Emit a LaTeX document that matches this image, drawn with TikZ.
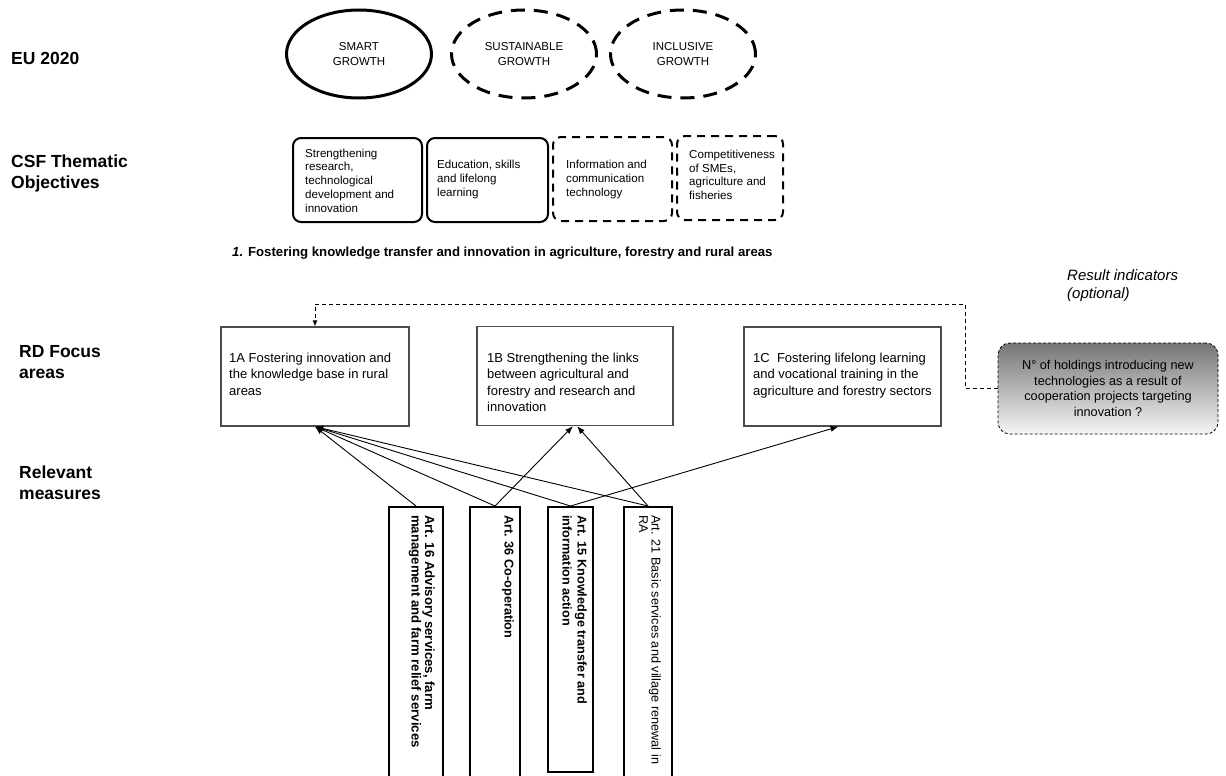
\documentclass[tikz,border=0pt]{standalone}
\usepackage{fontspec}
\setmainfont{Liberation Sans}
\usetikzlibrary{shapes.geometric,arrows.meta}
\definecolor{shadetop}{RGB}{118,118,118}
\definecolor{shadebot}{RGB}{246,246,246}
\begin{document}
\begin{tikzpicture}[x=1pt,y=-1pt,
 growth/.style={ellipse, draw, line width=3pt, minimum width=145pt, minimum height=88pt, inner sep=0pt, align=center, font=\fontsize{11.5}{15}\selectfont},
 dashgrowth/.style={growth, dash pattern=on 14pt off 9pt},
 csfbox/.style={draw, line width=2pt, rounded corners=8pt, inner sep=0pt, minimum height=84pt},
 csfdash/.style={csfbox, dash pattern=on 8pt off 6pt},
 csftext/.style={anchor=west, align=left, inner sep=0pt, font=\fontsize{11.6}{13.7}\selectfont},
 sidelabel/.style={anchor=west, align=left, inner sep=0pt, font=\fontsize{17.5}{21}\selectfont\bfseries},
 focusbox/.style={draw=black!70, line width=1.2pt, inner sep=0pt, minimum height=99pt},
 focustext/.style={anchor=north west, align=left, inner sep=0pt, font=\fontsize{13}{16.3}\selectfont},
 measurebox/.style={draw, line width=1.5pt, inner sep=0pt},
 measuretext/.style={rotate=-90, anchor=north west, align=left, inner sep=0pt, font=\fontsize{12.7}{14}\selectfont},
 arr/.style={-{Latex[length=8pt,width=6pt]}, line width=0.9pt},
 dasharr/.style={-{Latex[length=6pt,width=5pt]}, line width=0.9pt, dash pattern=on 4pt off 3pt},
 resultbox/.style={draw, line width=0.8pt, dash pattern=on 3pt off 2pt, rounded corners=12pt, minimum width=220pt, minimum height=91pt, inner sep=0pt, top color=shadetop, bottom color=shadebot, align=center, font=\fontsize{12.7}{15.7}\selectfont}
]
\useasboundingbox (0,0) rectangle (1226,776);

% side labels
\node[sidelabel] (lEU) at (11,58) {EU 2020};
\node[sidelabel] (lCSF) at (11,173.5) {CSF Thematic\\Objectives};
\node[sidelabel] (lRD) at (19,362) {RD Focus\\areas};
\node[sidelabel] (lRM) at (19,483) {Relevant\\measures};

% EU 2020 ellipses
\node[growth] (smart) at (359,54) {SMART\\GROWTH};
\node[dashgrowth] (sust) at (524,54) {SUSTAINABLE\\GROWTH};
\node[dashgrowth] (incl) at (683,54) {INCLUSIVE\\GROWTH};

% CSF thematic objectives
\node[csfbox, minimum width=129pt] (t1) at (357.5,180) {};
\node[csfbox, minimum width=121pt] (t2) at (487.5,180) {};
\node[csfdash, minimum width=119pt] (t3) at (612.5,179) {};
\node[csfdash, minimum width=106pt] (t4) at (730,178) {};
\node[csftext] (t1txt) at (305,180.5) {Strengthening\\research,\\technological\\development and\\innovation};
\node[csftext] (t2txt) at (437,179.5) {Education, skills\\and lifelong\\learning};
\node[csftext] (t3txt) at (566,179.5) {Information and\\communication\\technology};
\node[csftext] (t4txt) at (689,175) {Competitiveness\\of SMEs,\\agriculture and\\fisheries};

% heading
\node[anchor=west, inner sep=0pt, font=\fontsize{13.2}{16}\selectfont\bfseries] (head) at (232,253) {\textit{1.} Fostering knowledge transfer and innovation in agriculture, forestry and rural areas};

% result indicators
\node[anchor=west, align=left, inner sep=0pt, font=\fontsize{15}{18}\selectfont\itshape] (resl) at (1067,286) {Result indicators\\(optional)};

% focus areas
\node[focusbox, minimum width=188pt] (f1A) at (315,376.5) {};
\node[focusbox, minimum width=196pt] (f1B) at (575,376) {};
\node[focusbox, minimum width=197pt] (f1C) at (842.5,376.5) {};
\node[focustext] (f1Atxt) at (229,353) {1A Fostering innovation and\\the knowledge base in rural\\areas};
\node[focustext] (f1Btxt) at (487,353) {1B Strengthening the links\\between agricultural and\\forestry and research and\\innovation};
\node[focustext] (f1Ctxt) at (753,353) {1C\ \ Fostering lifelong learning\\and vocational training in the\\agriculture and forestry sectors};

% result box
\node[resultbox] (res) at (1108,388.5) {N\textdegree{} of holdings introducing new\\technologies as a result of\\cooperation projects targeting\\innovation ?};

% dashed connector
\coordinate (c1) at (965,304);
\draw[dasharr] (res.west) -| (c1) -| (f1A.north);

% measures
\begin{scope}
\clip (0,0) rectangle (1226,776);
\node[measurebox, minimum width=54pt, minimum height=300pt, anchor=north] (m16) at (416,506) {};
\node[measurebox, minimum width=50pt, minimum height=300pt, anchor=north] (m36) at (495,506) {};
\node[measurebox, minimum width=45pt, minimum height=265pt, anchor=north] (m15) at (570.5,506) {};
\node[measurebox, minimum width=48pt, minimum height=300pt, anchor=north] (m21) at (648,506) {};
\end{scope}
\node[measuretext, font=\fontsize{13.2}{13.5}\selectfont\bfseries] (m16txt) at (435,515) {Art. 16 Advisory services, farm\\management and farm relief services};
\node[measuretext, font=\fontsize{12.7}{14}\selectfont\bfseries] (m36txt) at (514,515) {Art. 36 Co-operation};
\node[measuretext, font=\fontsize{12.7}{15}\selectfont\bfseries] (m15txt) at (587,515) {Art. 15 Knowledge transfer and\\information action};
\node[measuretext, font=\fontsize{12.7}{12.5}\selectfont] (m21txt) at (661,515) {Art. 21 Basic services and village renewal in\\RA};

% arrows
\draw[arr] (m16.north) -- (f1A.south);
\draw[arr] (m36.north) -- (f1A.south);
\draw[arr] (m15.north) -- (f1A.south);
\draw[arr] (m21.north) -- (f1A.south);
\draw[arr] (m36.north) -- ([xshift=-2pt]f1B.south);
\draw[arr] (m21.north) -- ([xshift=2pt]f1B.south);
\draw[arr] (m15.north) -- ([xshift=-4pt]f1C.south);
\end{tikzpicture}
\end{document}
